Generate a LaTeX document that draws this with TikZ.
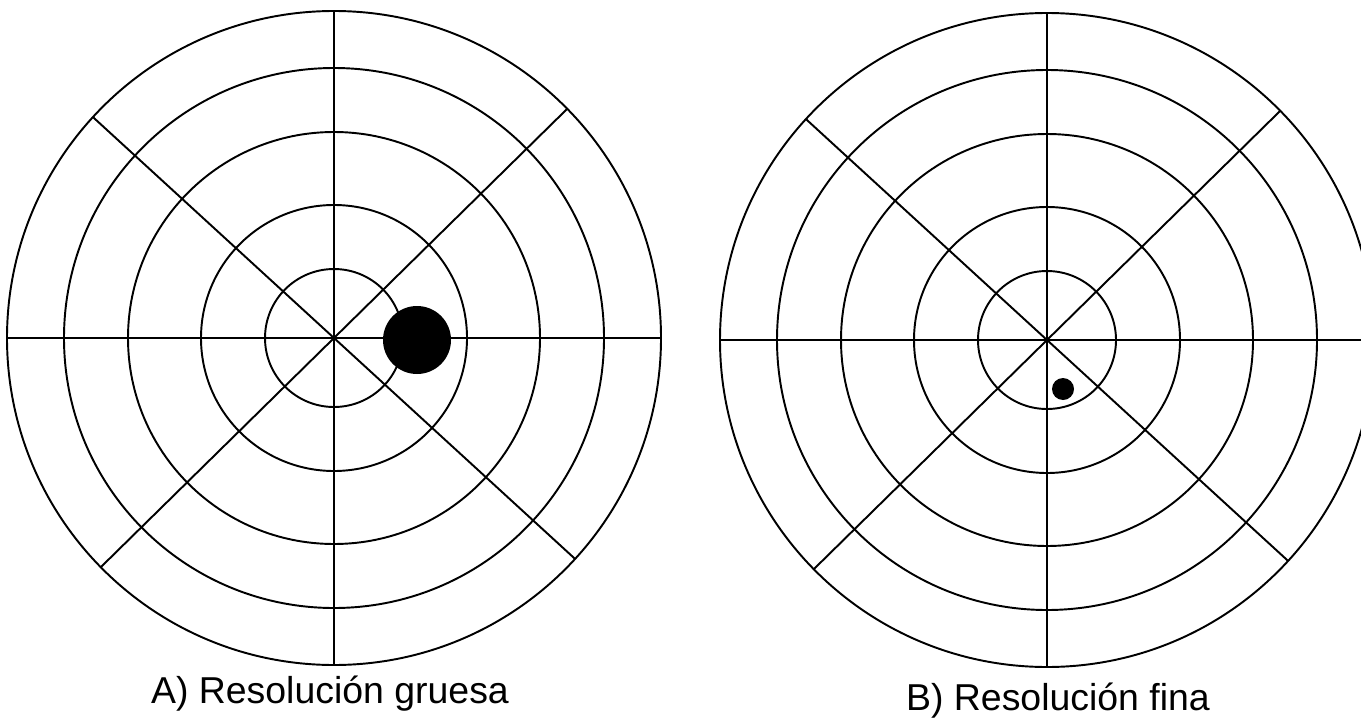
\documentclass[tikz,border=0pt]{standalone}
\usepackage{fontspec}
\setmainfont{Liberation Sans}

\begin{document}
\begin{tikzpicture}[
    x=0.02cm, y=0.02cm,
    ring/.style={line width=1.1pt},
    spoke/.style={line width=1.1pt},
    captiontext/.style={font=\fontsize{21.3}{25}\selectfont, anchor=base, inner sep=0pt}
  ]
    \useasboundingbox (0,0) rectangle (1361,718);
    \coordinate (cA) at (334,380);
    \coordinate (cB) at (1047,378);
    % polar grids
    \foreach \c in {cA,cB} {
      \foreach \r in {69,133,206,270,327}
        \draw[ring] (\c) circle[radius=\r];
      \foreach \a in {0,44.5,90,137.5}
        \draw[spoke] (\c) ++(\a:327) -- ++(\a+180:654);
    }
    % targets
    \fill (417,378) circle[radius=34];
    \fill (1063,329) circle[radius=11];
    \node[captiontext] (capA) at (330,15) {A) Resolución gruesa};
    \node[captiontext] (capB) at (1058,8) {B) Resolución fina};
  \end{tikzpicture}
\end{document}
